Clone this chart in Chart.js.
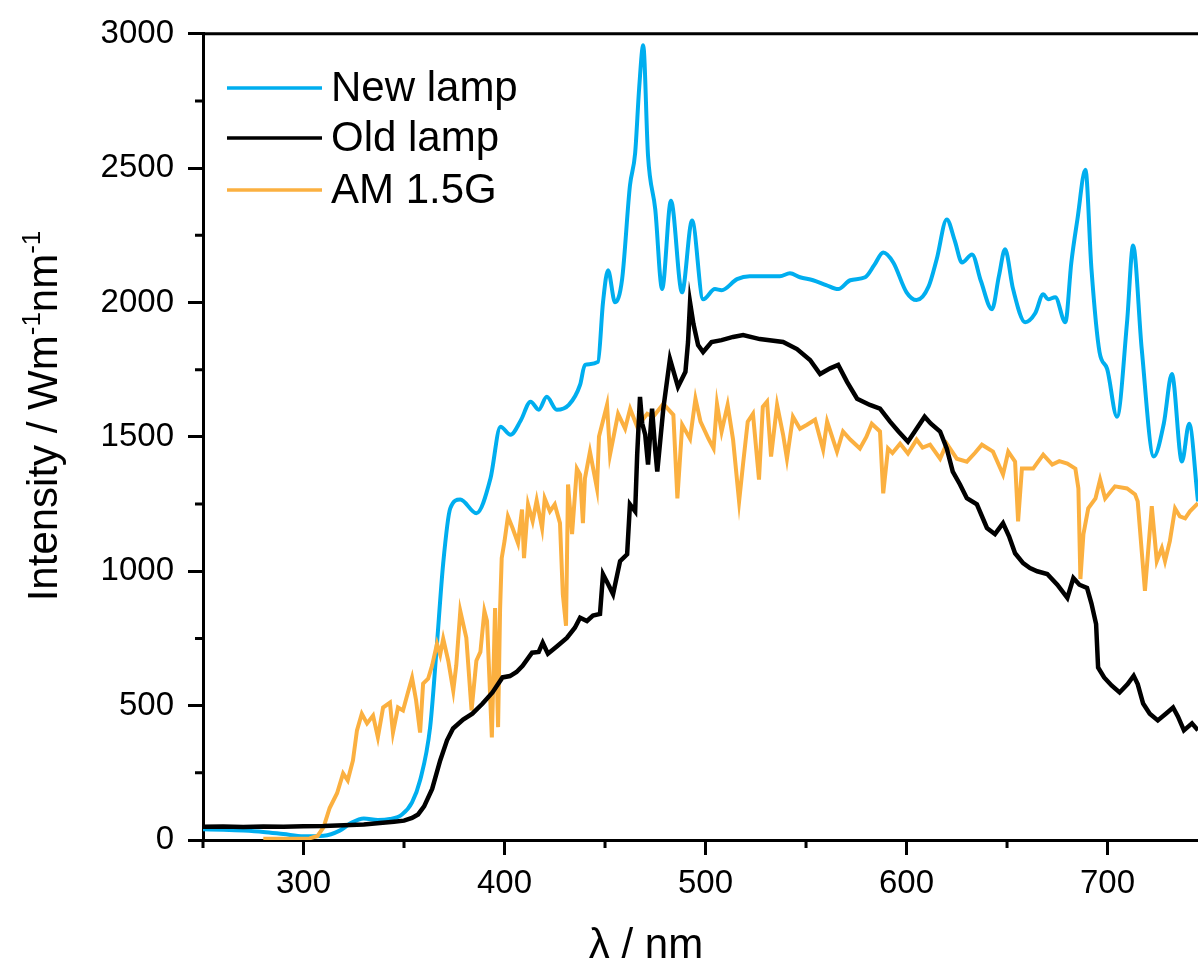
<!DOCTYPE html>
<html>
<head>
<meta charset="utf-8">
<script src="https://cdn.jsdelivr.net/npm/chart.js@4.4.0/dist/chart.umd.min.js"></script>
<style>
  html, body { margin: 0; padding: 0; background: #fff; overflow: hidden; }
  #wrap { width: 1198px; height: 960px; }
</style>
</head>
<body>
<div id="wrap"><canvas id="grafica"></canvas></div>
<script>
// DATA

var newLampNm = [250,260,270,280,290,300,310,318,324,330,337,343,349,354,358,363,366,369.5,373,378,386,393,398,403,408,413,417,421,426,432,437.6,440,446.5,449,451.5,455,458.5,462.4,465,467,469,471.4,475,478.4,482.8,488.3,493.3,498.8,504.7,508,515.7,522,530,537,542,547,553.5,560,566,572,579.4,584,588.4,593.4,600,605,611,615,620,624,627.6,632.6,637,642.5,646,649,653,659,664,668,670.4,674,679,682,685,689,692,696,699.8,704.7,709.7,712.7,717,723,728,732,737,740.6,745];
var newLampI = [40,38,35,30,22,14,16,35,65,80,74,78,95,140,222,420,690,1030,1234,1267,1216,1345,1538,1508,1560,1631,1601,1649,1601,1619,1694,1768,1779,2001,2120,2001,2087,2435,2557,2800,2957,2546,2346,2050,2379,2038,2305,2012,2050,2046,2087,2098,2098,2098,2109,2094,2083,2065,2050,2083,2094,2140,2186,2149,2038,2009,2060,2161,2309,2230,2149,2179,2080,1975,2100,2198,2050,1927,1960,2031,2012,2020,1927,2150,2309,2494,2124,1816,1753,1575,1927,2212,1827,1427,1550,1734,1408,1549,1260];

var oldLampNm = [250,260,270,280,290,300,310,320,330,338,345,350,354,357,360,364,368,371.4,374.4,379.4,384,389,394,399,402.7,406,409,413.7,417,419,421.6,426,431,435,437.6,441,444,447.5,449,451,454,457.5,461,462.4,465,466,467.4,468.5,470,471.4,473.4,475,476,479,482.3,486.3,490,491.3,492.3,494,496.3,498.8,503,508,513.7,518.7,527,538.6,545.5,552,557,562,566,570.4,575.4,581.8,586.8,591.8,596,600.7,605,609,612,616.7,620,623,626.6,630,635,640,644,648,651,654,658,661.4,665,670,675,680,683,686,689.8,692,694.3,695.3,698.3,702,706,710,713,715,717.7,721,725,729,732.6,735,738,742,745];
var oldLampI = [49,50,48,50,49,51,52,55,58,63,68,72,82,95,125,190,296,371,415,448,470,507,549,605,610,625,648,697,700,734,693,720,752,790,827,815,835,841,989,960,915,1038,1063,1249,1223,1434,1649,1550,1508,1397,1605,1450,1371,1605,1790,1686,1742,1853,2001,1920,1842,1816,1853,1860,1872,1879,1864,1853,1827,1786,1734,1755,1768,1705,1642,1619,1605,1557,1520,1482,1530,1575,1550,1520,1457,1371,1323,1272,1249,1161,1138,1179,1130,1067,1030,1012,1000,990,950,901,975,950,938,880,804,642,605,575,549,580,611,580,508,470,445,470,493,460,408,434,408];

var am15Nm = [280,290,300,303,307,310,313,316.7,319.7,322,324.6,326.6,329,331.6,334.6,337,339.6,343,344.5,347,349.5,351.5,354,356,358,359.5,362,364,366.4,368,369.5,372,374.5,376,378,381,383.6,386,388,390,391.3,393.7,395.3,396.8,397.8,398.6,400,401.7,404,406.7,408.7,409.7,411.7,414,416,418.7,420,422.6,425,427.6,429,430.6,431.6,433.6,436,437.6,439,440,442.5,446,447,451,452.5,456.5,460,462.5,466,471,474,479,484,486,488.4,492.3,495,497.5,501.5,504,505.7,508,511,513.7,516.7,518.8,521,523.6,526.6,528.5,530.6,532.6,535.6,538.6,540.5,543.5,547,550.5,554.5,558.5,560.5,565.4,568.4,572,576.8,580,582.7,586.8,588.4,590.8,593,596.8,600.7,605,608,611.7,616.7,620,625,630,634,637.5,643,648,650.6,654,655.5,657.4,663,668,672.5,676,680,684,685.5,686.5,688,690.4,694,696.3,698.8,703.7,709.7,713.7,715,718.6,722,724.5,727,728.6,731,733.6,736,738.6,741,745];
var am15I = [5,5,5,6,15,48,119,174,248,222,296,408,470,434,463,382,493,511,400,493,482,537,604,520,400,582,600,650,730,690,749,667,556,650,852,752,482,667,700,852,815,382,863,420,860,1049,1112,1204,1161,1105,1230,1049,1249,1186,1264,1160,1271,1223,1249,1179,915,797,1323,1138,1382,1360,1179,1345,1445,1308,1501,1619,1434,1586,1531,1605,1538,1586,1575,1623,1582,1271,1545,1493,1642,1557,1493,1457,1623,1520,1619,1490,1260,1408,1557,1586,1341,1612,1631,1427,1619,1508,1419,1575,1530,1545,1564,1453,1557,1445,1520,1490,1457,1500,1549,1520,1290,1457,1440,1475,1438,1490,1460,1471,1419,1475,1419,1408,1440,1471,1445,1360,1445,1408,1186,1382,1382,1434,1397,1410,1401,1382,1308,971,1138,1234,1271,1341,1271,1316,1308,1286,1260,927,1242,1038,1086,1038,1112,1234,1204,1197,1223,1253];

var seriesNames = ['New lamp', 'Old lamp', 'AM 1.5G'];

var xTicks = [300, 400, 500, 600, 700];
var xMinor = [250, 350, 450, 550, 650];
var yTicks = [0, 500, 1000, 1500, 2000, 2500, 3000];
var yMinor = [250, 750, 1250, 1750, 2250, 2750];

var xTitle = 'λ / nm';
var yTitleParts = [['Intensity / Wm', false], ['-1', true], ['nm', false], ['-1', true]];

var FONT = '"Liberation Sans", Arial, sans-serif';

function pts(xs, ys) {
    return xs.map(function (x, i) { return { x: x, y: ys[i] }; });
}

// axis extras, legend and titles
var extras = {
    id: 'extras',
    afterDraw: function (chart) {
        var c = chart.ctx, a = chart.chartArea;
        var xs = chart.scales.x, ys = chart.scales.y;
        c.save();
        c.strokeStyle = '#000';
        c.lineWidth = 3;
        c.beginPath();
        c.moveTo(a.left - 1, a.top);
        c.lineTo(a.right, a.top);
        xMinor.forEach(function (v) {
            var px = xs.getPixelForValue(v);
            c.moveTo(px, a.bottom);
            c.lineTo(px, a.bottom + 8);
        });
        yMinor.forEach(function (v) {
            var py = ys.getPixelForValue(v);
            c.moveTo(a.left, py);
            c.lineTo(a.left - 8, py);
        });
        c.stroke();

        // legend
        var rowsY = [88, 138, 190];
        c.font = '42px ' + FONT;
        c.textAlign = 'left';
        c.textBaseline = 'middle';
        chart.data.datasets.forEach(function (ds, i) {
            c.strokeStyle = ds.borderColor;
            c.lineWidth = 3.5;
            c.beginPath();
            c.moveTo(227, rowsY[i]);
            c.lineTo(322, rowsY[i]);
            c.stroke();
            c.fillStyle = '#000';
            c.fillText(ds.label, 331, rowsY[i] + 1);
        });

        // x title
        c.font = '42px ' + FONT;
        c.textAlign = 'center';
        c.textBaseline = 'alphabetic';
        c.fillText(xTitle, 646, 958);

        // y title with superscripts
        c.translate(57, 416);
        c.rotate(-Math.PI / 2);
        var big = '42px ' + FONT, small = '26px ' + FONT;
        var total = 0;
        yTitleParts.forEach(function (p) {
            c.font = p[1] ? small : big;
            total += c.measureText(p[0]).width;
        });
        var x = -total / 2;
        c.textAlign = 'left';
        yTitleParts.forEach(function (p) {
            c.font = p[1] ? small : big;
            c.fillText(p[0], x, p[1] ? -17 : 0);
            x += c.measureText(p[0]).width;
        });
        c.restore();
    }
};

var ctx = document.getElementById("grafica").getContext("2d");
var myChart = new Chart(ctx, {
    type: 'line',
    data: {
        datasets: [{
            label: seriesNames[0],
            data: pts(newLampNm, newLampI),
            borderColor: '#00AEEF',
            backgroundColor: '#00AEEF',
            borderWidth: 4,
            pointRadius: 0,
            cubicInterpolationMode: 'monotone',
            order: 2
        }, {
            label: seriesNames[1],
            data: pts(oldLampNm, oldLampI),
            borderColor: '#000000',
            backgroundColor: '#000000',
            borderWidth: 4.5,
            pointRadius: 0,
            tension: 0,
            order: 0
        }, {
            label: seriesNames[2],
            data: pts(am15Nm, am15I),
            borderColor: '#FBB040',
            backgroundColor: '#FBB040',
            borderWidth: 4,
            pointRadius: 0,
            tension: 0,
            order: 1
        }]
    },
    options: {
        responsive: true,
        maintainAspectRatio: false,
        animation: false,
        layout: { padding: { top: 28, left: 0, right: 0, bottom: 0 } },
        plugins: {
            legend: { display: false },
            tooltip: { enabled: false }
        },
        scales: {
            x: {
                type: 'linear',
                min: 250,
                max: 745,
                afterBuildTicks: function (s) { s.ticks = xTicks.map(function (v) { return { value: v }; }); },
                afterFit: function (s) { s.height = 120; },
                grid: { drawOnChartArea: false, drawTicks: true, tickLength: 15, tickWidth: 3, tickColor: '#000' },
                border: { display: true, color: '#000', width: 3 },
                ticks: {
                    color: '#000', font: { family: FONT, size: 33 }, padding: 9,
                    maxRotation: 0, autoSkip: false,
                    callback: function (v) { return String(v); }
                }
            },
            y: {
                type: 'linear',
                min: 0,
                max: 3000,
                afterBuildTicks: function (s) { s.ticks = yTicks.map(function (v) { return { value: v }; }); },
                afterFit: function (s) { s.width = 203; },
                grid: { drawOnChartArea: false, drawTicks: true, tickLength: 15, tickWidth: 3, tickColor: '#000' },
                border: { display: true, color: '#000', width: 3 },
                ticks: {
                    color: '#000', font: { family: FONT, size: 33 }, padding: 14,
                    autoSkip: false,
                    callback: function (v) { return String(v); }
                }
            }
        }
    },
    plugins: [extras]
});
</script>
</body>
</html>
